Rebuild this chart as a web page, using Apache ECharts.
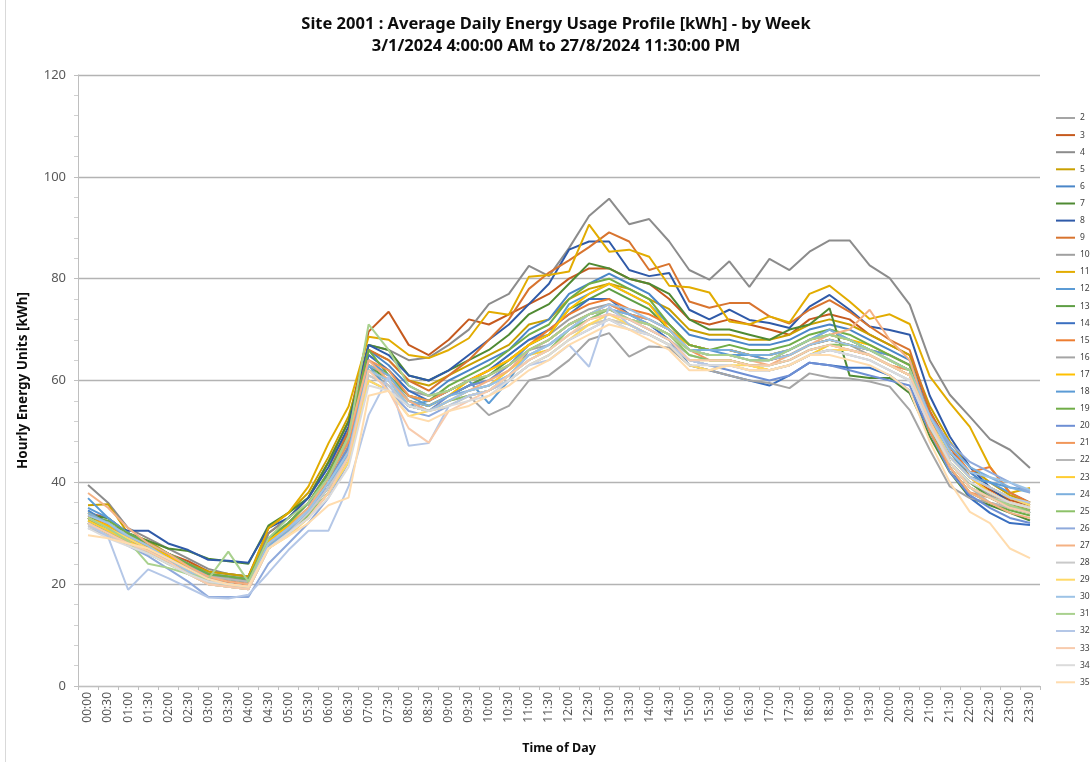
<!DOCTYPE html>
<html>
<head>
<meta charset="utf-8">
<title>Site 2001 - Average Daily Energy Usage Profile</title>
<script src="https://cdn.jsdelivr.net/npm/echarts@6/dist/echarts.min.js"></script>
<style>
  body { margin: 0; background: #fff; }
  #mainChart { width: 1090px; height: 762px; }
</style>
</head>
<body>
<div id="mainChart"></div>
<script>
// half-hour slots along the x axis
const times = ["00:00","00:30","01:00","01:30","02:00","02:30","03:00","03:30","04:00","04:30","05:00","05:30",
  "06:00","06:30","07:00","07:30","08:00","08:30","09:00","09:30","10:00","10:30","11:00","11:30",
  "12:00","12:30","13:00","13:30","14:00","14:30","15:00","15:30","16:00","16:30","17:00","17:30",
  "18:00","18:30","19:00","19:30","20:00","20:30","21:00","21:30","22:00","22:30","23:00","23:30"];

const yTicks = [0, 20, 40, 60, 80, 100, 120];

// average kWh per half hour, one array per week
const week2 = [32,30,28.5,27,25,23,21,20.5,20,27,30,34,39,46,63,60,56,55,57,59,60,63,66,67,70,73,74,72,71,69,66,65,65,64,64,65,67,68,67,65,63,61,51,44,39,37,35,34];
const week3 = [34,33,30,28,26,24.5,22.5,22,21.5,30,33,37,44,52,69.6,73.5,67,65,68,72,71,73,75,77,80,82,82,80,79,76,72,71,72,71,70,69,72,73,72,69,67,65,54,47,41,38.5,36.5,35.5];
const week4 = [39.5,36,31,29,27,25,23,22,21.5,30,33,37,44,50,67,66,64,64.5,67,70,75,77,82.5,80.5,86,92.3,95.7,90.7,91.7,87.3,81.7,79.8,83.4,78.4,83.9,81.7,85.3,87.5,87.5,82.6,80.1,74.9,64,57.2,52.9,48.5,46.4,42.8];
const week5 = [35.5,35.7,30,28.5,26,24,22.5,22,21.5,31,34,38,45,53,66,64,60,59,61,63,65,67,71,72,76,78,79,78,76,74,70,69,69,68,68,69,71,72,71,69,67,65,55,48,43,40,37.5,36];
const week6 = [34.5,32,29.5,28,26,24,22,21,21,29,32,36,42,50,66,63,59,57,60,62,64,66,70,72,77,79,81,79,77,73,69,68,68,67,67,68,70,71,70,68,66,64,53,46,42,39,37,35.5];
const week7 = [33.5,33,30,28.5,27,26.5,25,24.5,24,31.5,34,37,44,52,67,66,61,60,62,64,66,69,73,75,79,83,82,80,79,77,72,70,70,69,68,70,71,74.2,61,60.5,60.5,57.5,49,42,37,35.5,34,32.5];
const week8 = [33,31.5,30.5,30.5,28,26.7,24.8,24.6,24.2,31,33,37,43,51,67,65,61,60,62,65,68,71,75,79,85.7,87.3,87.3,81.7,80.5,81.1,73.9,72,73.9,71.9,71.3,70.3,74.5,76.8,73.9,70.6,69.9,69,57,49,43,39,36,34];
const week9 = [33,31,29,27.5,25.5,23.5,21.5,21,20.5,29,32,36,42,50,66,64,60,58,61,64,68,72,78,81.2,83.6,86.2,89.1,87.3,81.7,82.9,75.5,74.3,75.2,75.2,72.6,71.2,73.9,75.8,73.5,70.6,68,66,54,46,41,38,36,34.5];
const week10 = [33,31,29,27,25,23,21,20.5,20,28,31,35,41,48,65,62,58,57,58,60,62,65,68,69,72,74,75,73,72,70,67,66,66,65,65,66,68,69,68,66,64,62,52,44,40,37.5,35.5,34];
const week11 = [34,32,29.5,28,26,24,22,21.5,21,31,34,39.2,47.7,54.9,68.6,68,65,64.4,66,68.3,73.5,72.9,80.4,80.7,81.4,90.6,85.3,85.7,84.3,78.6,78.3,77.3,71.6,71,72.6,71.4,77,78.6,75.5,72.1,73,71.1,60.8,55.6,50.9,43.1,37.9,38.9];
const week12 = [35,33,30,28,26,24,22,21.5,21,29,32,36,41,48,64,61,57,55,57,59,61,63,67,69,75,77,79,77,75,71,67,66,66,65,65,66,68,69,68,66,64,62,52,45,41,40,38,36];
const week13 = [32.5,31,29,27,25,23,21.5,21,20.5,28,31,35,40,47,63,60,56,55,57,59,61,64,67,69,74,76,78,76,74,70,66,65,65,64,64,65,67,68,67,66,64,62,52,44,40,37,35,34];
const week14 = [33,31,29,27,25,23,21,20.5,20,28,31,35,42,49,65,62,58,56,58,60,62,65,68,70,73,76,76,73,71,68,63,62,61,60,59,61,63.5,63,62.5,62.5,61,58,50,43,37,34,32,31.6];
const week15 = [33.5,31.5,29,27,25,23,21,20.5,20,28,31,35,40,47,63,61,57,56,58,60,62,64,67,70,73,75,76,74,73,71,67,66,66,65,64,65,67,68,67,66,65,63,52,47,42,43,38,36];
const week16 = [32,30,28,26.5,24.5,22.5,20.5,20,19.5,27,30,34,39,46,62,59,55,54,56,57,53.2,55,60,61,64,68,69.3,64.7,66.7,66.5,63,62,61,60,59.5,58.5,61.4,60.6,60.4,59.8,58.8,54.2,46.4,39.2,36.9,36,35,34];
const week17 = [33,31.5,29.5,27.5,25.5,23.5,21.5,21,20.5,28.5,31.5,35,40,47,63,61,56,55,57,60,62,64,67,69,74,77,79,77,75,70,67,66,66,65,65,66,68,69,68,67,65,63,53,46,41,39,37,36];
const week18 = [36.9,33,30,28,26,24,21.5,21,20.5,28,31,35,41,49,63,58,55,56,58,60,55.5,60,66,68,71,73,74,73,72,70,66,66,65,65,64,66,68,70,68,66,65,63,53,46,41,40,39,38.5];
const week19 = [33,32.5,30,28,26,24,22,21.5,21,29,32,36,42,49,66,61,57,56,59,61,63,66,69,71,76,79,80,78,76,71,67,66,67,66,66,67,69,70,69,67,65,63,51,43,38,36,34.5,33.5];
const week20 = [32,30.5,28.5,26.5,24.5,22,20,19.5,19,27,30,34,40,47,62,60,56,54,57,59,60,63,66,68,71,73,74,72,70,68,64,63,62,61,60,61,63.5,63,62,61,60,59,50,42,37.5,35,33,32];
const week21 = [33,31,29,27,25,23,21,20.5,20,28,31,35,41,48,64,62,57,56,58,60,61,63,66,68,71,73,75,73,72,70,66,64,64,63,62,63,65,66,66,65,63,62,50,43,38,37,36,35];
const week22 = [32,30,28,27,25,23,21.5,21,20.5,27,30,33,38,45,61,59,55,54,56,58,59,62,65,67,70,72,73,72,70,68,65,64,64,63,63,64,66,67,66,65,63,61,51,44,39,36,35,34];
const week23 = [32.5,30.5,28.5,26.5,24,22,20,19.5,19,27,30,33,38,45,62,60,55,54,56,58,59,62,65,66,69,71,72,71,69,67,64,64,64,63,62,63,65,67,66,65,63,61,51,45,41,38,36,35];
const week24 = [34,32,29,27,25,23,21,20,19.5,27.5,30.5,34,39,46,63,61,56,55,57,58,59,61,65,67,70,72,74,73,71,69,66,66,66,65,65,66,68,70,68,66,64,62,53,47,43,41,39,38];
const week25 = [32,30,28,26,24,22,20.5,20,19.5,27,30,33.5,38,45,62,60,55,54,56,57,58,61,64,66,70,72,74,72,71,69,65,64,64,63,63,64,66,67,67,66,64,62,51,44,39,37,35.5,34.5];
const week26 = [31,29.5,27.5,25.5,23,20.5,17.5,17.5,17.5,24,28,32,37,44,60,58,54,53,55,57,58,60,63,65,68,70,72,70,69,67,64,63,63,62,62,63,65,66,66,65,63,61,53,47.7,44,42,40,38];
const week27 = [37.9,35,31,28,26,23.5,21.5,20.5,20,28,31,35,41,49,64,60,56,54,56,58,60,62,66,68,71,73,74,72,71,69,66,65,65,64,63,65,67,69,70,73.9,68,64,52,43,38,36,34,33];
const week28 = [31.5,29.5,28,26,24,22,20,19.5,19,27,30,34,39,45,61,59,55,54,55,57,58,61,64,66,69,71,72,71,69,67,64,63,63,62,62,63,65,66,65,64,62,60,51,44,39,37,36,35];
const week29 = [33,31,29,27,25,22.5,20.5,20,19.5,27,29.5,33,38,44,60,58,53,54,55,57,58,60,63,65,68,71,73,71,69,67,63,62,63,63,62,63,65,66,66,65,63,61,52,45,41,39,37,35.5];
const week30 = [33.5,32,29.5,27.5,25,22.5,20.5,20,19.5,28,31,34.5,40,46,62,60,55,54,56,58,59,61,65,67,70,73,75,74,72,70,66,65,65,64,64,65,67,68,67,66,64,62,53,46,42,41,40,38.5];
const week31 = [33,31,28.5,24,23.2,22,21,26.4,20.5,29,33,36,41,49,71,66,59,57,58,60,61,63,66,68,71,73,74,72,71,69,66,65,65,64,64,66,68,69,68,66,64,62,51,44,39,37,35.5,34];
const week32 = [32,29.3,18.9,22.9,21.2,19.3,17.4,17.2,17.9,22.2,26.7,30.5,30.5,39.2,53.2,60.8,47.2,47.7,55,57,58,60,63,64,67,62.7,74.5,71,69,67,64,63,63,62,62,63,65,66,65,64,62,60,51,45,41,39,37,36];
const week33 = [32,30,28,26.5,24.5,22,20,19.5,19,27,30,33,38,45,62,58,50.6,47.8,54,56,58,61,64,66,69,72,73,72,70,68,64,64,64,63,63,64,66,67,66,65,63,61,52,44,39,37,35,34];
const week34 = [31,29,27.5,26,24,22,20.5,20,19.5,27,30,33,37,43,59,58,55,54,55,56,57,60,63,65,68,70,72,70,69,67,63,63,63,62,62,63,65,66,65,64,62,60,51,44,40,38,36,35];
const week35 = [29.6,29,28,27,25,23,21,20,19.5,27,29.5,32,35.5,37,57,58,53,52,54,55,57,59,62,64,67,69,71,70,68,66,62,62,63,62,62,63,65,65,64,63,61,58,48,40,34.2,32,27,25.1];

const weekNames = ["2","3","4","5","6","7","8","9","10","11","12","13","14","15","16","17","18",
  "19","20","21","22","23","24","25","26","27","28","29","30","31","32","33","34","35"];
const weekValues = [week2, week3, week4, week5, week6, week7, week8, week9, week10, week11, week12,
  week13, week14, week15, week16, week17, week18, week19, week20, week21, week22, week23, week24,
  week25, week26, week27, week28, week29, week30, week31, week32, week33, week34, week35];

// office-style line colours, same order as the weeks
const palette = ["#a5a5a5","#c65a1e","#8c8c8c","#c9a000","#4a86c8","#4f8a33","#2f5aa8","#d8742f",
  "#a0a0a0","#e2ac00","#5b9bd5","#5e9e44","#3a6fc0","#ed7d31","#a5a5a5","#ffc000","#5b9bd5",
  "#70ad47","#6e8fd4","#f1975a","#b7b7b7","#ffcd33","#7cafdd","#8cc168","#8faadc","#f4b183",
  "#c9c9c9","#ffd966","#9dc3e6","#a9d18e","#b4c7e7","#f8cbad","#dbdbdb","#ffdcae"];

const myChart = echarts.init(document.getElementById("mainChart"));

let series = weekNames.map(function (name, i) {
  return {
    name: name,
    type: "line",
    data: weekValues[i],
    symbol: "none",
    color: palette[i],
    lineStyle: { width: 2, color: palette[i] },
    emphasis: { disabled: true },
  };
});

let option = {
  animation: false,
  backgroundColor: "#ffffff",
  textStyle: { fontFamily: "Noto Sans" },
  graphic: [
    // title, two lines centred over the plot
    {
      type: "text", x: 556, y: 24,
      style: {
        text: "Site 2001 : Average Daily Energy Usage Profile [kWh] - by Week",
        font: "bold 16.5px 'Noto Sans'", fill: "#0d0d0d",
        textAlign: "center", textVerticalAlign: "middle",
      },
    },
    {
      type: "text", x: 556, y: 46,
      style: {
        text: "3/1/2024 4:00:00 AM to 27/8/2024 11:30:00 PM",
        font: "bold 16.5px 'Noto Sans'", fill: "#0d0d0d",
        textAlign: "center", textVerticalAlign: "middle",
      },
    },
    // frame edge on the left
    { type: "line", shape: { x1: 5.5, y1: 0, x2: 5.5, y2: 762 }, style: { stroke: "#d9d9d9", lineWidth: 1 } },
  ],
  grid: { left: 78, right: 50, top: 75, bottom: 76 },
  legend: {
    orient: "vertical",
    left: 1056,
    top: 113,
    padding: 0,
    itemWidth: 19,
    itemHeight: 2,
    itemGap: 7.1,
    itemTextGap: 2,
    icon: "rect",
    selectedMode: false,
    textStyle: { fontSize: 8.5, color: "#404040", lineHeight: 10, fontFamily: "Noto Sans" },
    data: weekNames,
  },
  xAxis: {
    type: "category",
    data: times,
    boundaryGap: true,
    name: "Time of Day",
    nameLocation: "middle",
    nameGap: 56,
    nameTextStyle: { fontWeight: "bold", fontSize: 12.5, color: "#0d0d0d" },
    axisLine: { lineStyle: { color: "#bfbfbf" } },
    axisTick: { show: true, length: 4, lineStyle: { color: "#bfbfbf" } },
    axisLabel: { rotate: 90, fontSize: 12, color: "#595959", interval: 0, margin: 6 },
    splitLine: { show: false },
  },
  yAxis: {
    type: "value",
    min: yTicks[0],
    max: yTicks[yTicks.length - 1],
    interval: 20,
    name: "Hourly Energy Units [kWh]",
    nameLocation: "middle",
    nameGap: 48,
    nameTextStyle: { fontWeight: "bold", fontSize: 13.5, color: "#0d0d0d" },
    axisLine: { show: true, lineStyle: { color: "#bfbfbf" } },
    axisTick: { show: true, length: 4, lineStyle: { color: "#bfbfbf" } },
    minorTick: { show: true, splitNumber: 5, length: 4, lineStyle: { color: "#d0d0d0" } },
    axisLabel: { fontSize: 13, color: "#595959", margin: 12 },
    splitLine: { lineStyle: { color: "#b3b3b3", width: 1.3 } },
  },
  series: series,
};

myChart.setOption(option);
</script>
</body>
</html>
